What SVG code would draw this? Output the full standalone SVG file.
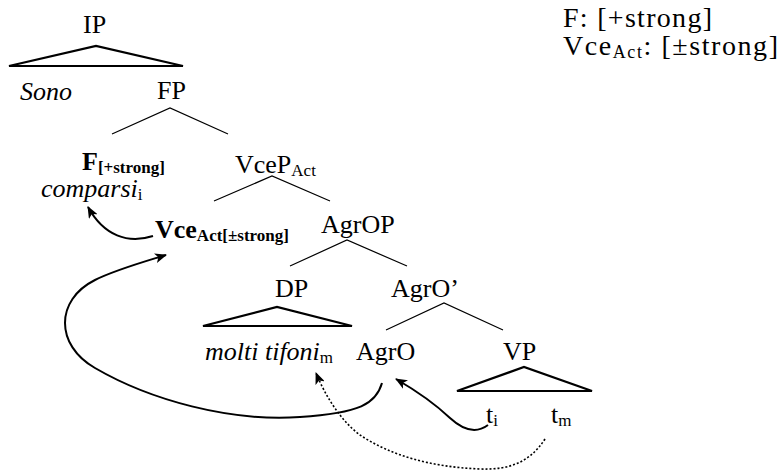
<svg xmlns="http://www.w3.org/2000/svg" width="781" height="472" viewBox="0 0 781 472">
<style>
text{font-family:'Liberation Serif','Times New Roman',Tinos,'DejaVu Serif',serif;font-size:26px;fill:#000}
.it{font-style:italic}
.b{font-weight:bold}
.sub{font-size:17px}
.leg{font-size:28px}
.legsub{font-size:18px}
.br{stroke:#000;stroke-width:1.2;fill:none}
.tri{stroke:#000;stroke-width:2.2;fill:none;stroke-linejoin:miter}
.arr{stroke:#000;stroke-width:2;fill:none}
.dot{stroke:#000;stroke-width:1.6;fill:none;stroke-dasharray:2,2}
</style>
<defs>
<marker id="ah" viewBox="0 0 12 10" refX="11" refY="5" markerWidth="12" markerHeight="10" markerUnits="userSpaceOnUse" orient="auto">
<path d="M0,0 L12,5 L0,10 L3,5 z" fill="#000"/>
</marker>
</defs>
<rect width="781" height="472" fill="#fff"/>

<g id="IP"><text x="83" y="33">IP</text><path class="tri" d="M9,66 L96,46 L183,66 Z"/></g>
<g id="Sono"><text class="it" x="20" y="100">Sono</text></g>
<g id="FP"><text x="157" y="99">FP</text><path class="br" d="M112,134 L170,108 L228,134"/></g>
<g id="F"><text x="82" y="170"><tspan class="b">F</tspan><tspan class="b sub" dy="3">[+strong]</tspan></text></g>
<g id="comparsi"><text x="41" y="197"><tspan class="it">comparsi</tspan><tspan class="sub" dy="3">i</tspan></text></g>
<g id="VceP"><text x="235" y="173">VceP<tspan class="sub" dy="3">Act</tspan></text><path class="br" d="M214,201 L272,176 L330,201"/></g>
<g id="Vce"><text x="155" y="238"><tspan class="b">Vce</tspan><tspan class="b sub" dy="3">Act[±strong]</tspan></text></g>
<g id="AgrOP"><text x="321" y="233">AgrOP</text><path class="br" d="M290,266 L347,240 L407,266"/></g>
<g id="DP"><text x="275" y="297">DP</text><path class="tri" d="M203,326 L277,307 L352,326 Z"/></g>
<g id="AgrObar"><text x="391" y="297">AgrO’</text><path class="br" d="M386,330 L444,303 L503,330"/></g>
<g id="molti"><text x="205" y="360"><tspan class="it">molti tifoni</tspan><tspan class="sub" dy="3">m</tspan></text></g>
<g id="AgrO"><text x="356" y="360">AgrO</text></g>
<g id="VP"><text x="503" y="360">VP</text><path class="tri" d="M457,391 L524,367 L592,391 Z"/></g>
<g id="ti"><text x="486" y="423">t<tspan class="sub" dy="3">i</tspan></text></g>
<g id="tm"><text x="551" y="423">t<tspan class="sub" dy="3">m</tspan></text></g>

<g id="legend">
<text class="leg" x="563" y="27" textLength="149" lengthAdjust="spacing">F: [+strong]</text>
<text class="leg" x="563" y="55" textLength="215" lengthAdjust="spacing">Vce<tspan class="legsub" dy="3">Act</tspan><tspan dy="-3">: [±strong]</tspan></text>
</g>

<g id="connectors">
<path class="arr" marker-end="url(#ah)" d="M153,236 C128,244 104,236 88,207"/>
<path class="arr" marker-end="url(#ah)" d="M382,383 C376,404 360,413 300,417 C230,422 150,400 95,368 C55,345 55,300 95,280 C115,270 140,263 166,255"/>
<path class="arr" marker-end="url(#ah)" d="M488,425 C476,434 463,430 450,418 C432,401 415,390 396,379"/>
<path class="dot" marker-end="url(#ah)" d="M545,439 C530,462 510,470 480,469 C430,467 390,455 360,435 C340,420 325,395 316,373"/>
</g>
</svg>
